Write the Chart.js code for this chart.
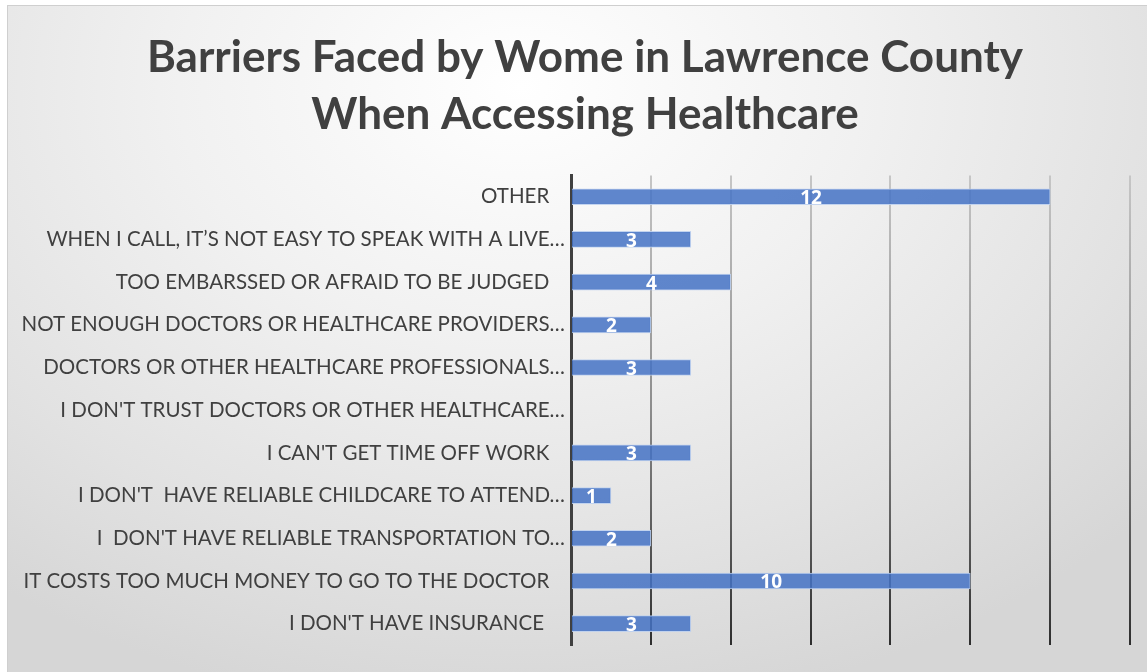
<!DOCTYPE html>
<html>
<head>
<meta charset="utf-8">
<script src="https://cdn.jsdelivr.net/npm/chart.js@4/dist/chart.umd.min.js"></script>
<style>
  html, body { margin: 0; padding: 0; background: #fff; }
  #box {
    position: absolute; left: 7px; top: 5px; width: 1140px; height: 667px;
    box-sizing: border-box; border-left: 1px solid #cfcfcf; border-top: 1px solid #cfcfcf;
    background: radial-gradient(ellipse 75% 95% at 45% 12%, #ffffff 0%, #f1f1f1 40%, #e2e2e2 75%, #d6d6d6 100%);
  }
</style>
</head>
<body>
<div id="box"><canvas id="myChart"></canvas></div>
<script>
// categories, top to bottom as shown (trailing spaces are in the source labels)
const categories = [
  'OTHER   ',
  'WHEN I CALL, IT\u2019S NOT EASY TO SPEAK WITH A LIVE\u2026',
  'TOO EMBARSSED OR AFRAID TO BE JUDGED   ',
  'NOT ENOUGH DOCTORS OR HEALTHCARE PROVIDERS\u2026',
  'DOCTORS OR OTHER HEALTHCARE PROFESSIONALS\u2026',
  'I DON\'T TRUST DOCTORS OR OTHER HEALTHCARE\u2026',
  'I CAN\'T GET TIME OFF WORK   ',
  'I DON\'T  HAVE RELIABLE CHILDCARE TO ATTEND\u2026',
  'I  DON\'T HAVE RELIABLE TRANSPORTATION TO\u2026',
  'IT COSTS TOO MUCH MONEY TO GO TO THE DOCTOR   ',
  'I DON\'T HAVE INSURANCE    '
];
const counts = [12, 3, 4, 2, 3, 0, 3, 1, 2, 10, 3];
const titleLines = ['Barriers Faced by Wome in Lawrence County', 'When Accessing Healthcare'];

const FONT = 'Lato, "Open Sans", sans-serif';

// white numbers in the middle of each bar
const barLabels = {
  id: 'barLabels',
  afterDatasetsDraw(chart) {
    let ctx = chart.ctx;
    let meta = chart.getDatasetMeta(0);
    ctx.save();
    ctx.fillStyle = '#ffffff';
    ctx.font = 'bold 19px "Open Sans", sans-serif';
    ctx.textAlign = 'center';
    ctx.textBaseline = 'middle';
    meta.data.forEach((bar, i) => {
      if (!counts[i]) return;
      let x = (bar.x + bar.base) / 2;
      ctx.fillText(String(counts[i]), x, bar.y + 2);
    });
    ctx.restore();
  }
};

// title sits a little right of the canvas centre in the original
const titleShift = {
  id: 'titleShift',
  afterLayout(chart) {
    if (chart.titleBlock) chart.titleBlock.left += 32;
  }
};

// gridlines get darker towards the bottom
function gridColor(c) {
  let area = c.chart.chartArea;
  if (!area) return '#999999';
  let g = c.chart.ctx.createLinearGradient(0, area.top, 0, area.bottom);
  g.addColorStop(0, '#c6c6c6');
  g.addColorStop(0.5, '#8c8c8c');
  g.addColorStop(1, '#2e2e2e');
  return g;
}

let ctx = document.getElementById('myChart').getContext('2d');
let chart = new Chart(ctx, {
  type: 'bar',
  data: {
    labels: categories,
    datasets: [{
      data: counts,
      backgroundColor: 'rgba(68, 114, 196, 0.85)',
      borderColor: 'rgba(190, 208, 238, 0.9)',
      borderWidth: 1,
      barThickness: 16
    }]
  },
  options: {
    indexAxis: 'y',
    responsive: true,
    maintainAspectRatio: false,
    animation: false,
    layout: { padding: { left: 0, right: 17, top: 0, bottom: 27 } },
    plugins: {
      legend: { display: false },
      tooltip: { enabled: false },
      title: {
        display: true,
        text: titleLines,
        color: '#404040',
        font: { family: FONT, size: 44, weight: 'bold', lineHeight: 1.3 },
        padding: { top: 23, bottom: 32 }
      }
    },
    scales: {
      x: {
        min: 0,
        max: 14,
        ticks: { display: false, stepSize: 2 },
        grid: { color: gridColor, lineWidth: 2, drawTicks: false },
        border: { display: false }
      },
      y: {
        afterFit(scale) { scale.width = 563; },
        ticks: {
          color: '#404040',
          font: { family: FONT, size: 20.5 },
          padding: 6,
          autoSkip: false
        },
        grid: { display: false, drawTicks: false },
        border: { display: true, color: '#404040', width: 3 }
      }
    }
  },
  plugins: [barLabels, titleShift]
});
</script>
</body>
</html>
